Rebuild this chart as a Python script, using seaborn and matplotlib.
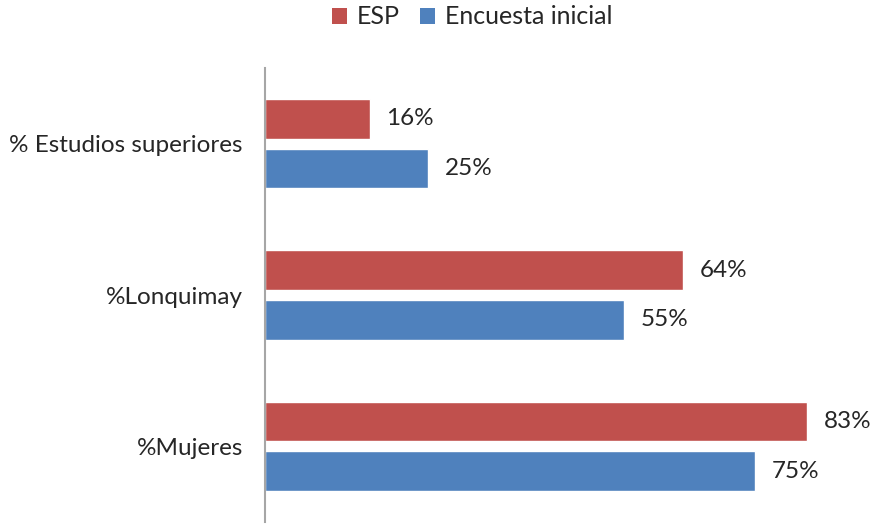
import matplotlib
matplotlib.use("Agg")
import matplotlib.pyplot as plt
import seaborn as sns
import pandas as pd

categories = ["% Estudios superiores", "%Lonquimay", "%Mujeres"]
series_names = ["ESP", "Encuesta inicial"]
esp_values = [16, 64, 83]
inicial_values = [25, 55, 75]
colors = ["#C0504D", "#4F81BD"]

df = pd.DataFrame({
    "Categoria": categories * 2,
    "Serie": [series_names[0]] * 3 + [series_names[1]] * 3,
    "Valor": esp_values + inicial_values,
})

sns.set_theme(style="white")
plt.rcParams["font.family"] = ["Lato", "DejaVu Sans"]

fig = plt.figure(figsize=(8.72, 5.25), dpi=100)
ax = fig.add_axes([265 / 872, 3 / 525, (866 - 265) / 872, (522 - 68) / 525])

sns.barplot(data=df, y="Categoria", x="Valor", hue="Serie", order=categories,
            hue_order=series_names, palette=colors, orient="h",
            width=0.658, gap=0.2, saturation=1, ax=ax, legend=False)

for cont in ax.containers:
    ax.bar_label(cont, fmt="%d%%", padding=12, fontsize=17.5, color="#262626")

ax.set_xlim(0, 92)
ax.set_ylim(2.5, -0.5)
ax.set_xlabel("")
ax.set_ylabel("")
ax.set_xticks([])
for s in ["top", "right", "bottom"]:
    ax.spines[s].set_visible(False)
ax.spines["left"].set_color("#A6A6A6")
ax.spines["left"].set_linewidth(1.5)
ax.tick_params(axis="y", length=0, pad=16, labelsize=17.5, labelcolor="#262626")

from matplotlib.patches import Patch
handles = [Patch(facecolor=c, edgecolor="none") for c in colors]
fig.legend(handles, series_names, loc="center", bbox_to_anchor=(472 / 872, 1 - 17 / 525),
           ncol=2, frameon=False, fontsize=18, handlelength=0.6, handleheight=0.6,
           handletextpad=0.4, columnspacing=0.8, labelcolor="#262626")

fig.savefig("out.png", dpi=100)
